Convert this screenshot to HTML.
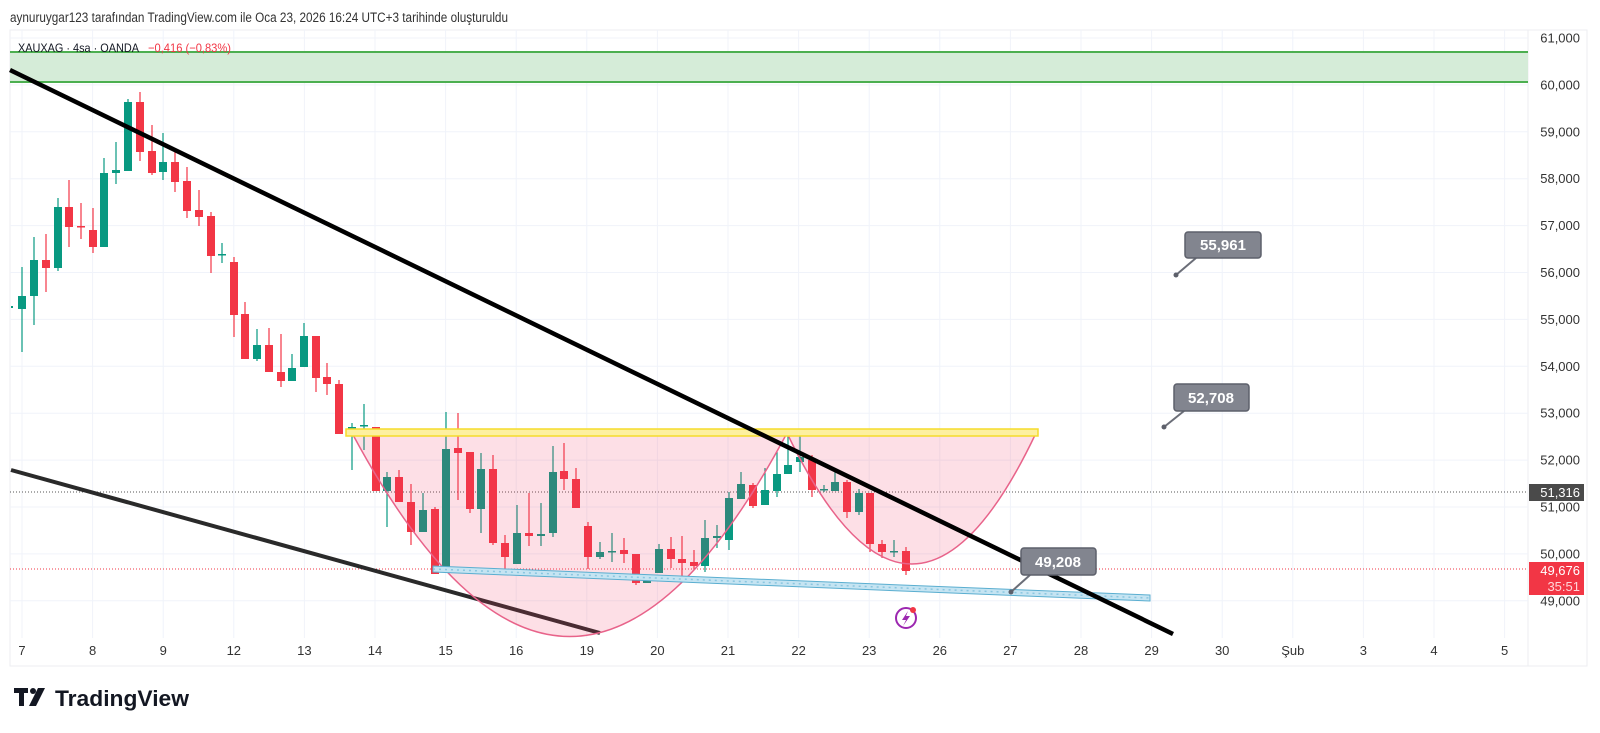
<!DOCTYPE html>
<html><head><meta charset="utf-8">
<style>
html,body{margin:0;padding:0;background:#fff;}
svg{display:block;}
text{font-family:"Liberation Sans",sans-serif;}
</style></head>
<body>
<svg id="s" width="1600" height="733" xmlns="http://www.w3.org/2000/svg">
<rect width="1600" height="733" fill="#fff"/>
<text x="10" y="22" font-size="13.5" fill="#333" textLength="498" lengthAdjust="spacingAndGlyphs">aynuruygar123 tarafından TradingView.com ile Oca 23, 2026 16:24 UTC+3 tarihinde oluşturuldu</text>
<rect x="10" y="30" width="1577" height="636" fill="none" stroke="#eceef2" stroke-width="1"/>
<line x1="1528" y1="30" x2="1528" y2="666" stroke="#eceef2"/>
<g id="grid" stroke="#f0f3fa" stroke-width="1"></g>
<g id="gridlabels" font-size="13" fill="#333"></g>
<rect x="10" y="52" width="1518" height="30" fill="#d5ecd8"/>
<line x1="10" y1="52" x2="1528" y2="52" stroke="#4caf50" stroke-width="2"/>
<line x1="10" y1="82" x2="1528" y2="82" stroke="#4caf50" stroke-width="2"/>
<text x="18" y="52" font-size="12" fill="#131722" textLength="121" lengthAdjust="spacingAndGlyphs">XAUXAG · 4sa · OANDA</text>
<text x="148" y="52" font-size="12" fill="#f23645" textLength="83" lengthAdjust="spacingAndGlyphs">−0,416 (−0,83%)</text>
<line x1="10" y1="492" x2="1528" y2="492" stroke="#555" stroke-width="1" stroke-dasharray="1,2"/>
<line x1="10" y1="569" x2="1528" y2="569" stroke="#f23645" stroke-width="1" stroke-dasharray="1,2"/>
<g id="candles"></g>
<line x1="11" y1="470" x2="600" y2="633" stroke="#2a2a2a" stroke-width="4"/>
<path d="M352,433 Q570,840 787,433 Z" fill="rgba(242,54,100,0.16)" stroke="#e8638a" stroke-width="1.5"/>
<path d="M787,433 Q912,695 1036,433 Z" fill="rgba(242,54,100,0.16)" stroke="#e8638a" stroke-width="1.5"/>
<rect x="346" y="429" width="692" height="7" fill="#fdf0a0" stroke="#f5dc2a" stroke-width="1.5"/>
<polygon points="433,566 1150,595 1150,601 433,572" fill="#c5e4f2" stroke="#5aaed0" stroke-width="1"/>
<line x1="433" y1="569" x2="1150" y2="598" stroke="#8ac6e0" stroke-width="1.5" stroke-dasharray="2,4"/>
<line x1="10" y1="70" x2="1173" y2="634" stroke="#000" stroke-width="4.5"/>
<g font-size="15" font-weight="bold" fill="#fff" text-anchor="middle">
<line x1="1176" y1="275" x2="1196" y2="258" stroke="#6b6e78" stroke-width="2"/><circle cx="1176" cy="275" r="2.5" fill="#5d606b"/>
<rect x="1185" y="232" width="76" height="26" rx="3" fill="#82858f" stroke="#5d606b" stroke-width="1.5"/>
<text x="1223" y="250">55,961</text>
<line x1="1164" y1="427" x2="1184" y2="411" stroke="#6b6e78" stroke-width="2"/><circle cx="1164" cy="427" r="2.5" fill="#5d606b"/>
<rect x="1174" y="384" width="75" height="27" rx="3" fill="#82858f" stroke="#5d606b" stroke-width="1.5"/>
<text x="1211" y="403">52,708</text>
<line x1="1011" y1="592" x2="1030" y2="575" stroke="#6b6e78" stroke-width="2"/><circle cx="1011" cy="592" r="2.5" fill="#5d606b"/>
<rect x="1021" y="548" width="75" height="27" rx="3" fill="#82858f" stroke="#5d606b" stroke-width="1.5"/>
<text x="1058" y="567">49,208</text>
</g>
<circle cx="906" cy="618" r="10" fill="#fff" stroke="#9c27b0" stroke-width="2"/>
<path d="M908,611 L902,620 L906,620 L903,626 L910,616 L906,616 Z" fill="#9c27b0"/>
<circle cx="913" cy="610" r="3" fill="#f23645"/>
<rect x="1529" y="484" width="55" height="17" fill="#4a4a4a"/>
<text x="1580" y="497" font-size="13" fill="#fff" text-anchor="end">51,316</text>
<rect x="1529" y="562" width="55" height="33" fill="#f23645"/>
<text x="1580" y="575" font-size="13" fill="#fff" text-anchor="end">49,676</text>
<text x="1580" y="591" font-size="13" fill="#ffd5d8" text-anchor="end">35:51</text>
<g transform="translate(14,688)" fill="#131722">
<rect x="0" y="0" width="14" height="5"/><rect x="5" y="0" width="5" height="18"/>
<circle cx="19" cy="3" r="3"/>
<polygon points="24,0 31,0 22,18 15,18"/>
</g>
<text x="55" y="706" font-size="22" font-weight="bold" fill="#131722" textLength="134" lengthAdjust="spacingAndGlyphs">TradingView</text>
</svg>
<script>
var NS="http://www.w3.org/2000/svg";
function el(p,t,a){var e=document.createElementNS(NS,t);for(var k in a)e.setAttribute(k,a[k]);p.appendChild(e);return e;}
var g=document.getElementById("grid"),gl=document.getElementById("gridlabels");
var dates=["7","8","9","12","13","14","15","16","19","20","21","22","23","26","27","28","29","30","Şub","3","4","5"];
dates.forEach(function(d,i){var x=22+70.6*i;el(g,"line",{x1:x,y1:30,x2:x,y2:638});
var t=el(gl,"text",{x:x,y:655,"text-anchor":"middle"});t.textContent=d;});
for(var p=49;p<=61;p++){var y=38+(61-p)*46.9;el(g,"line",{x1:10,y1:y,x2:1528,y2:y});
var t=el(gl,"text",{x:1580,y:y+4.5,"text-anchor":"end"});t.textContent=p+",000";}
var C=[[22,"g",296,309,267,352],[34,"g",260,296,237,325],[46,"r",260,268,234,292],[58,"g",207,268,198,271],[69,"r",207,227,180,247],[81,"r",226,227,203,239],[93,"r",230,247,208,253],[104,"g",173,247,158,247],[116,"g",170,173,142,184],[128,"g",102,171,99,171],[140,"r",102,152,92,161],[152,"r",151,173,125,175],[163,"g",162,172,133,180],[175,"r",162,182,152,192],[187,"r",181,211,167,218],[199,"r",210,217,190,226],[211,"r",216,256,212,273],[222,"g",254,255,243,263],[234,"r",262,315,257,337],[245,"r",314,359,302,359],[257,"g",345,359,329,361],[269,"r",345,372,328,372],[281,"r",372,381,334,387],[292,"g",368,381,354,381],[304,"g",336,367,323,367],[316,"r",336,378,336,392],[327,"r",377,384,363,395],[339,"r",384,434,380,434],[352,"g",427,434,423,470],[364,"g",425,426,404,450],[376,"r",427,491,427,491],[387,"g",477,491,472,527],[399,"r",477,502,470,502],[411,"r",502,532,484,545],[423,"g",510,532,493,532],[435,"r",509,574,507,574],[446,"g",449,568,412,568],[458,"r",448,453,413,500],[470,"r",452,509,452,513],[481,"g",469,509,453,533],[493,"r",469,543,455,545],[505,"r",543,557,535,572],[517,"g",533,564,505,564],[529,"r",533,536,493,546],[541,"g",534,536,503,546],[553,"g",472,533,446,537],[564,"r",471,479,443,490],[576,"r",479,508,468,508],[588,"r",526,557,522,569],[600,"g",552,557,542,559],[612,"g",551,552,533,562],[624,"r",550,554,538,563],[636,"r",554,583,554,585],[647,"g",578,583,578,583],[659,"g",549,573,544,573],[671,"r",549,559,537,568],[682,"r",559,563,536,577],[694,"r",562,566,550,570],[705,"g",538,566,520,572],[717,"g",536,538,525,548],[729,"g",498,540,492,550],[741,"g",484,499,472,499],[753,"r",485,506,483,508],[765,"g",490,505,468,505],[777,"g",474,491,452,497],[788,"g",465,474,433,474],[800,"g",457,462,432,472],[812,"r",460,490,455,497],[824,"g",489,490,485,492],[835,"g",482,491,472,491],[847,"r",482,512,480,518],[859,"g",493,512,489,515],[870,"r",493,544,493,552],[882,"r",544,552,540,558],[894,"g",551,552,540,557],[906,"r",551,571,547,575]];
var cg=document.getElementById("candles");
el(cg,"rect",{x:11,y:306,width:2,height:2,fill:"#089981"});
C.forEach(function(c){var col=c[1]=="g"?"#089981":"#f23645";
el(cg,"line",{x1:c[0],y1:c[4],x2:c[0],y2:c[5],stroke:col,"stroke-width":1.2});
var h=Math.max(1.5,c[3]-c[2]);el(cg,"rect",{x:c[0]-4,y:c[2],width:8,height:h,fill:col});});
</script>
</body></html>
